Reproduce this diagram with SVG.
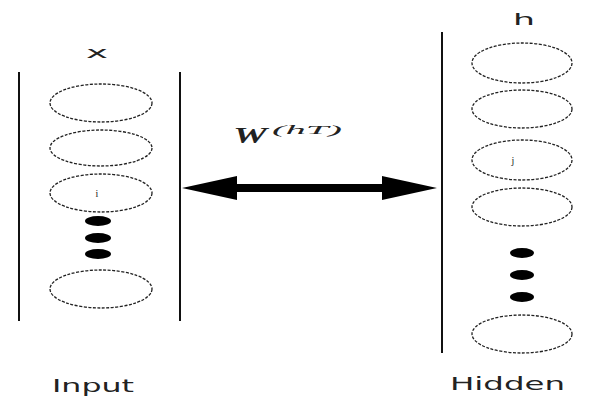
<svg xmlns="http://www.w3.org/2000/svg" width="595" height="396" viewBox="0 0 595 396">
<style>
.bar{stroke:#111;stroke-width:2;fill:none}
.node{fill:none;stroke:#222;stroke-width:1.3;stroke-dasharray:3 1.5}
.dot{fill:#000}
.lbl{font-family:"DejaVu Sans","Liberation Sans",sans-serif;fill:#222}
.small{font-family:"Liberation Serif",serif;font-size:10px;fill:#222}
</style>
<rect width="595" height="396" fill="#fff"/>
<g id="input-layer">
<line class="bar" x1="19" y1="72" x2="19" y2="321"/>
<line class="bar" x1="180" y1="72" x2="180" y2="321"/>
<text class="lbl" x="97" y="58" font-size="16" text-anchor="middle" textLength="22" lengthAdjust="spacingAndGlyphs">x</text>
<ellipse class="node" cx="101" cy="103" rx="51" ry="19"/>
<ellipse class="node" cx="101" cy="148" rx="51" ry="18"/>
<ellipse class="node" cx="101" cy="193" rx="51" ry="19"/>
<text class="small" x="97" y="197" text-anchor="middle">i</text>
<ellipse class="dot" cx="98" cy="221" rx="13" ry="5"/>
<ellipse class="dot" cx="98" cy="238" rx="13" ry="5"/>
<ellipse class="dot" cx="98" cy="254" rx="13" ry="5"/>
<ellipse class="node" cx="101" cy="289" rx="51" ry="19"/>
<text class="lbl" x="52" y="392" font-size="17" textLength="82" lengthAdjust="spacingAndGlyphs">Input</text>
</g>
<g id="hidden-layer">
<line class="bar" x1="442" y1="32" x2="442" y2="353"/>
<text class="lbl" x="524" y="25" font-size="16" text-anchor="middle" textLength="22" lengthAdjust="spacingAndGlyphs">h</text>
<ellipse class="node" cx="522" cy="63" rx="50" ry="20"/>
<ellipse class="node" cx="522" cy="109" rx="50" ry="19"/>
<ellipse class="node" cx="522" cy="160" rx="50" ry="20"/>
<text class="small" x="513" y="164" text-anchor="middle">j</text>
<ellipse class="node" cx="522" cy="207" rx="50" ry="19"/>
<ellipse class="dot" cx="522" cy="253" rx="12" ry="5"/>
<ellipse class="dot" cx="522" cy="275" rx="12" ry="5"/>
<ellipse class="dot" cx="522" cy="297" rx="12" ry="5"/>
<ellipse class="node" cx="522" cy="334" rx="50" ry="19"/>
<text class="lbl" x="450" y="390" font-size="17" textLength="115" lengthAdjust="spacingAndGlyphs">Hidden</text>
</g>
<g id="connectors">
<line x1="230" y1="188" x2="390" y2="188" stroke="#000" stroke-width="8"/>
<polygon points="182,188 237,176 237,200" fill="#000"/>
<polygon points="437,188 382,176 382,200" fill="#000"/>
<text x="233" y="143" font-family="Liberation Serif,serif" font-style="italic" font-weight="bold" font-size="24" fill="#222" textLength="34" lengthAdjust="spacingAndGlyphs">W</text>
<text x="272" y="134" font-family="Liberation Serif,serif" font-style="italic" font-size="13" fill="#222" textLength="70" lengthAdjust="spacingAndGlyphs">(hT)</text>
</g>
</svg>
